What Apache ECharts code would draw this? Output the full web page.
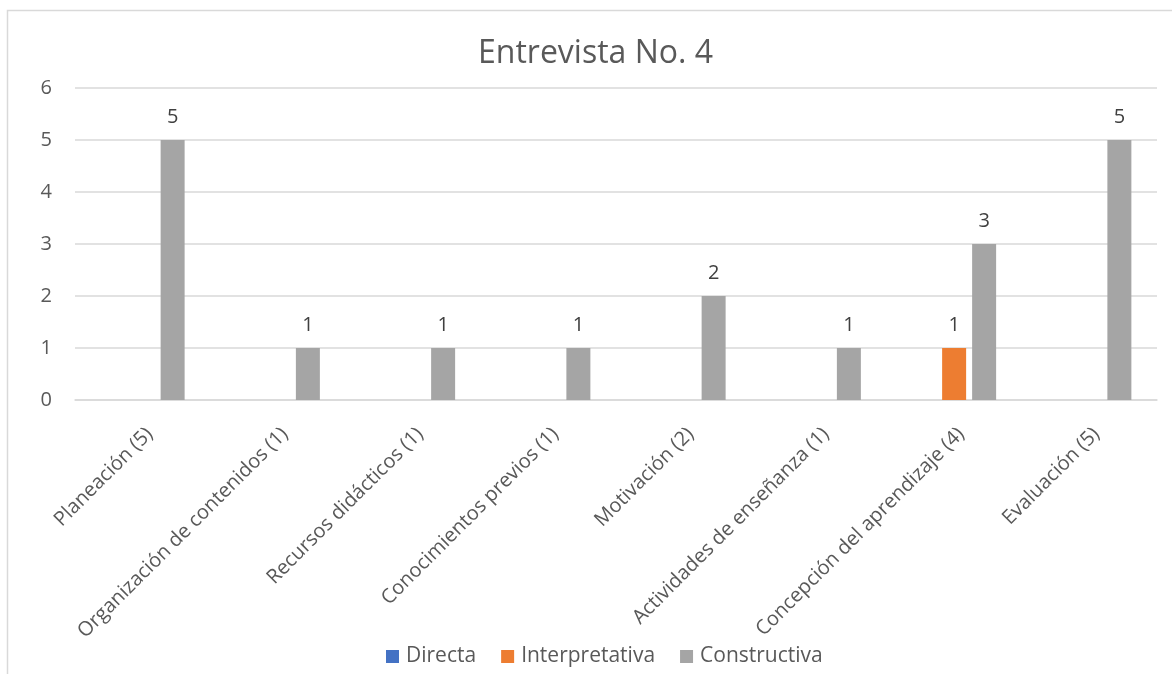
<!DOCTYPE html>
<html>
<head>
<meta charset="utf-8">
<title>Entrevista No. 4</title>
<script src="https://cdn.jsdelivr.net/npm/echarts@6/dist/echarts.min.js"></script>
<style>
  html, body { margin: 0; padding: 0; background: #fff; }
  #chart { width: 1172px; height: 674px; }
</style>
</head>
<body>
<div id="chart"></div>
<script>
const categories = [
  'Planeación (5)',
  'Organización de contenidos (1)',
  'Recursos didácticos (1)',
  'Conocimientos previos (1)',
  'Motivación (2)',
  'Actividades de enseñanza (1)',
  'Concepción del aprendizaje (4)',
  'Evaluación (5)'
];
const directa = [null, null, null, null, null, null, null, null];
const interpretativa = [null, null, null, null, null, null, 1, null];
const constructiva = [5, 1, 1, 1, 2, 1, 3, 5];

const font = '"Open Sans", "Noto Sans", sans-serif';

const chart = echarts.init(document.getElementById('chart'));

function barSeries(name, data, color) {
  return {
    name,
    type: 'bar',
    data,
    barWidth: 24,
    barGap: '25%',
    itemStyle: { color },
    label: {
      show: true,
      position: 'top',
      distance: 13,
      color: '#404040',
      fontFamily: font,
      fontSize: 20
    }
  };
}

chart.setOption({
  animation: false,
  textStyle: { fontFamily: font },
  graphic: [{
    type: 'rect',
    shape: { x: 7.5, y: 10.5, width: 1300, height: 800 },
    style: { fill: 'none', stroke: '#d9d9d9', lineWidth: 1.5 },
    silent: true
  }],
  title: {
    text: 'Entrevista No. 4',
    left: 473,
    top: 33,
    textStyle: { color: '#595959', fontFamily: font, fontSize: 32, fontWeight: 'normal' }
  },
  legend: {
    bottom: 2,
    left: 381,
    itemWidth: 13,
    itemHeight: 13,
    itemGap: 25,
    icon: 'rect',
    textStyle: { color: '#595959', fontFamily: font, fontSize: 21, padding: [0, 0, 0, 2] },
    data: ['Directa', 'Interpretativa', 'Constructiva']
  },
  grid: { left: 75, right: 15, top: 88, bottom: 274 },
  xAxis: {
    type: 'category',
    data: categories,
    axisLine: { lineStyle: { color: '#d9d9d9', width: 1.5 } },
    axisTick: { show: false },
    axisLabel: {
      rotate: 45,
      interval: 0,
      color: '#595959',
      fontFamily: font,
      fontSize: 20,
      align: 'right',
      verticalAlign: 'top',
      margin: 24
    }
  },
  yAxis: {
    type: 'value',
    min: 0,
    max: 6,
    interval: 1,
    axisLine: { show: false },
    axisTick: { show: false },
    splitLine: { lineStyle: { color: '#d9d9d9', width: 1.5 } },
    axisLabel: { color: '#595959', fontFamily: font, fontSize: 20, margin: 23 }
  },
  series: [
    barSeries('Directa', directa, '#4472c4'),
    barSeries('Interpretativa', interpretativa, '#ed7d31'),
    barSeries('Constructiva', constructiva, '#a5a5a5')
  ]
});
</script>
</body>
</html>
